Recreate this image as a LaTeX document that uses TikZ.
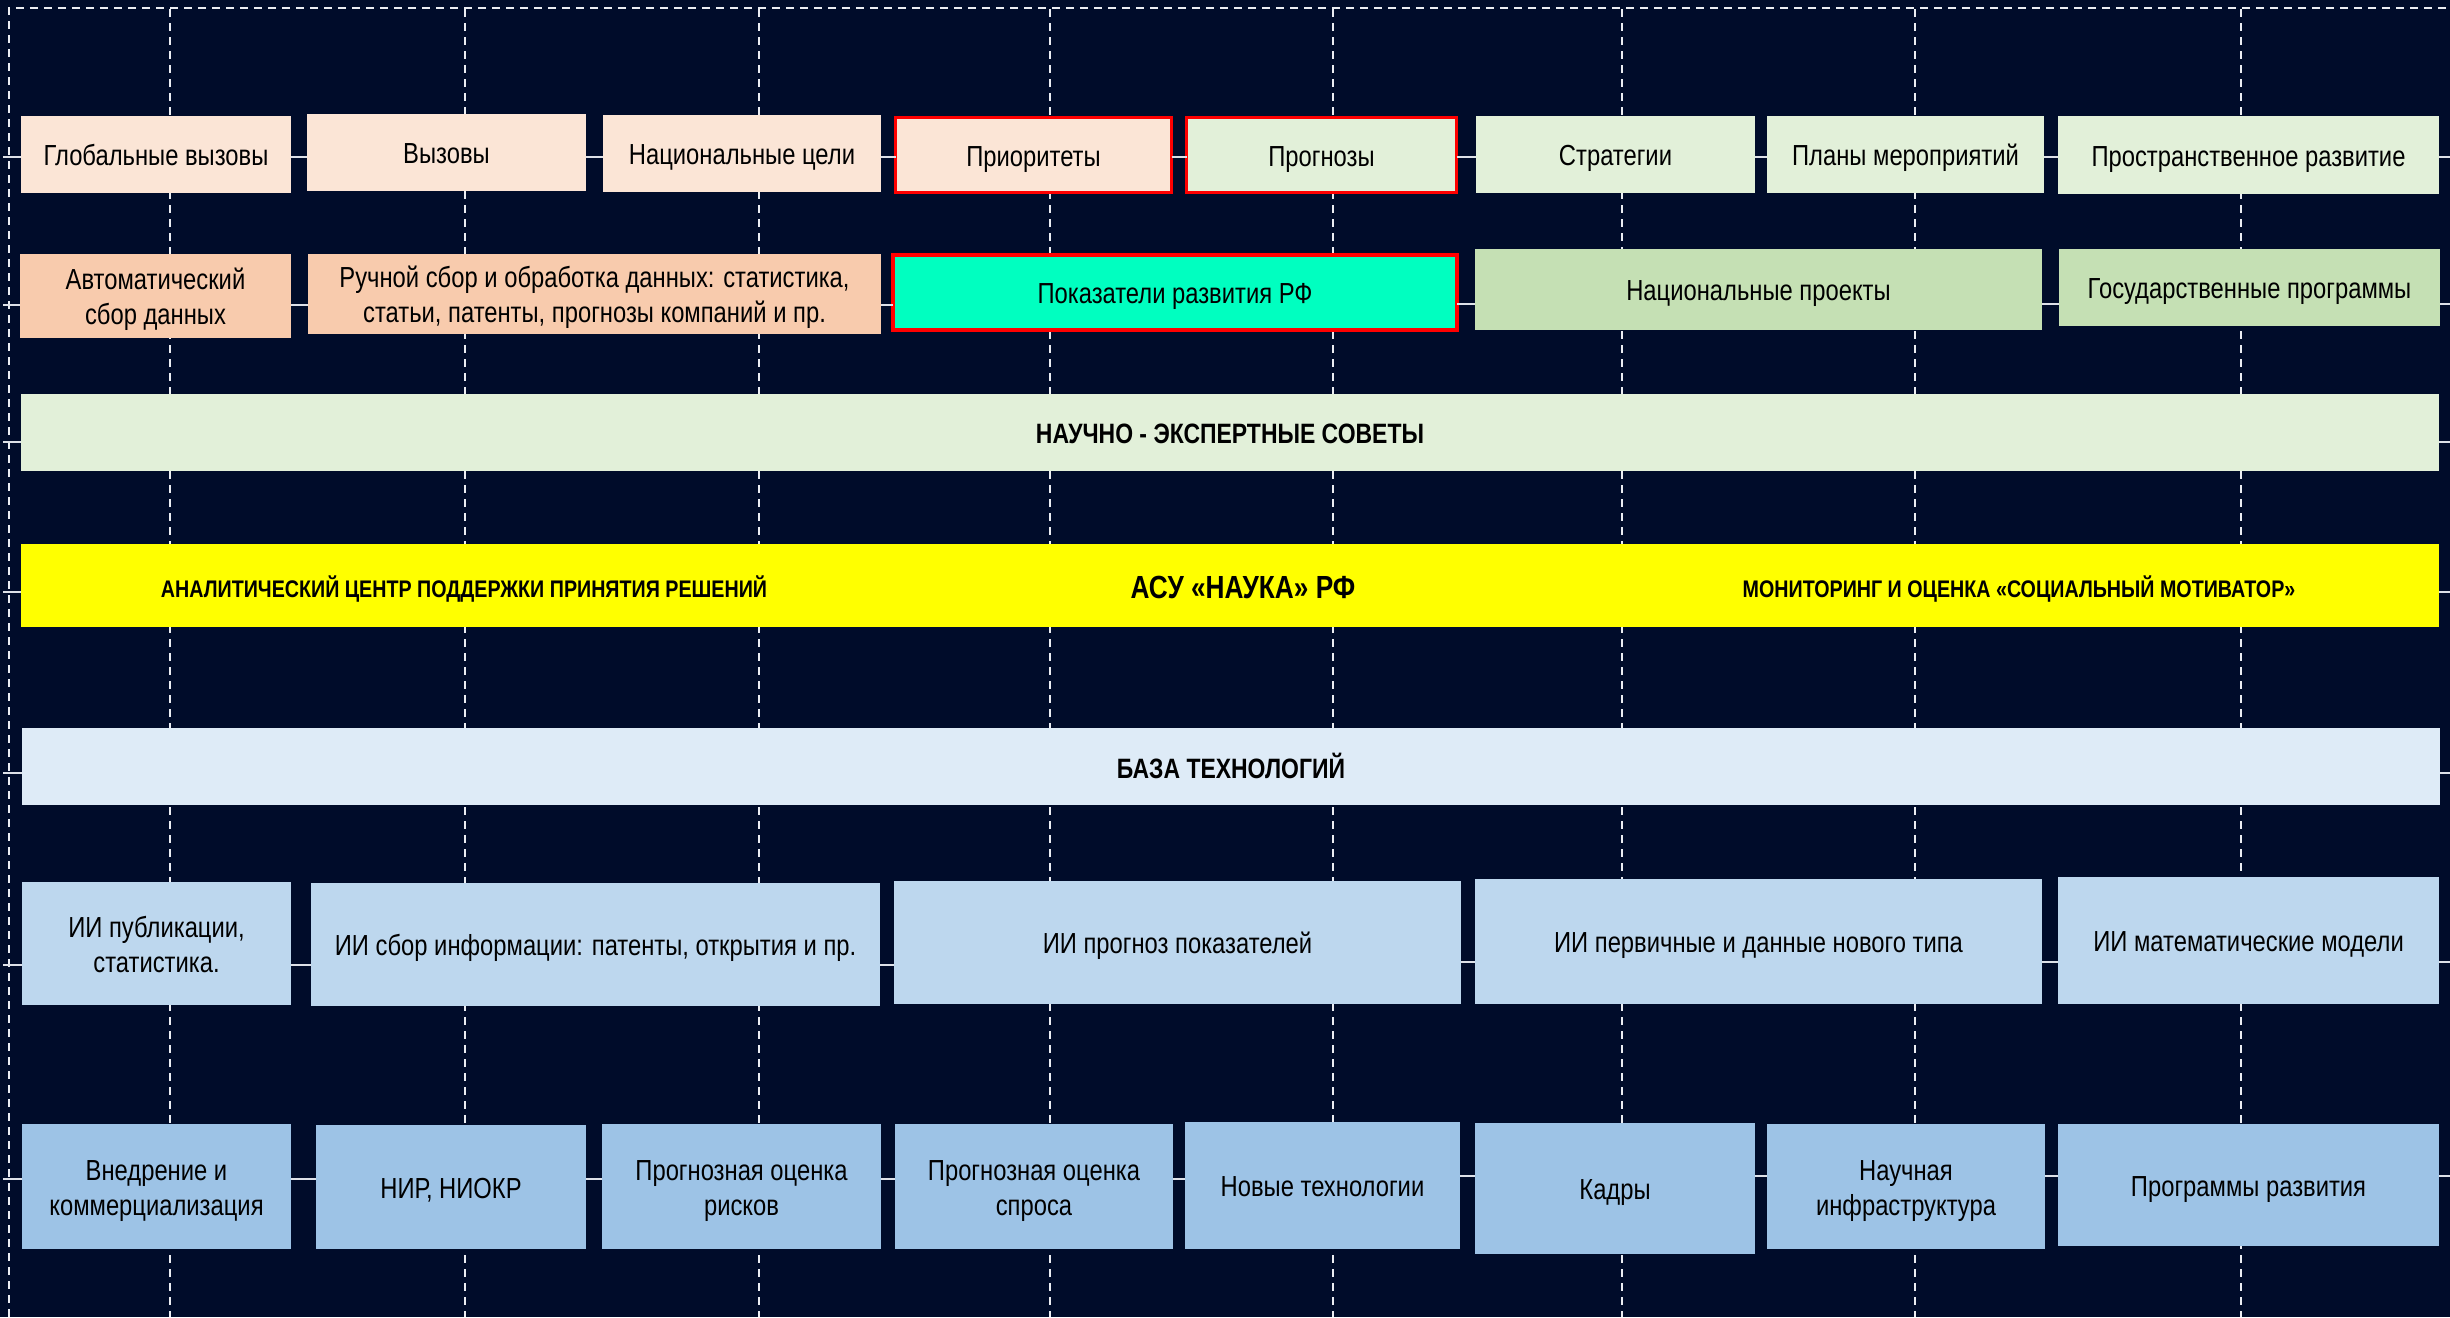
\documentclass[tikz,border=0pt]{standalone}
\usepackage{fontspec}
\setmainfont[FakeStretch=0.82]{Liberation Sans}
\definecolor{bg}{RGB}{0,12,42}
\definecolor{peach}{HTML}{FBE5D6}
\definecolor{orng}{HTML}{F8CBAD}
\definecolor{lgreen}{HTML}{E2F0D9}
\definecolor{mgreen}{HTML}{C5E0B4}
\definecolor{teal}{HTML}{00FFC0}
\definecolor{yel}{HTML}{FFFF00}
\definecolor{lblue}{HTML}{DEEBF7}
\definecolor{mblue}{HTML}{BDD7EE}
\definecolor{dblue}{HTML}{9DC3E6}
\definecolor{connc}{RGB}{222,225,232}
\definecolor{dashc}{RGB}{235,237,242}
\definecolor{redb}{HTML}{FF0000}
\newcommand{\bx}[7][]{\node[box,#1,minimum width={(#5-#3)*0.5pt},minimum height={(#6-#4)*0.5pt}] (#2) at ({(#3+#5)/2},{(#4+#6)/2}) {\raisebox{-2pt}[\height][\depth]{\begin{tabular}{@{}c@{}}#7\end{tabular}}};}
\begin{document}
\begin{tikzpicture}[x=0.5pt,y=-0.5pt,
  box/.style={rectangle,inner sep=0pt,outer sep=0pt,text=black,font=\fontsize{14.5}{17.5}\selectfont},
  redbox/.style={draw=redb,line width=1.5pt},
  redbox2/.style={draw=redb,line width=2pt},
  band/.style={box,font=\bfseries\fontsize{14}{17}\selectfont},
  bandlbl/.style={inner sep=0pt,text=black,font=\bfseries\fontsize{12}{14}\selectfont},
  conn/.style={draw=connc,line width=1.4pt},
  grid/.style={draw=dashc,line width=1pt,dash pattern=on 4.2pt off 2.8pt}]
\fill[bg] (0,0) rectangle (2450,1317);
\useasboundingbox (0,0) rectangle (2450,1317);
% dashed frame and grid
\draw[grid] (9,1317) -- (9,8) -- (2450,8);
\foreach \gx in {170,465,759,1050,1333,1622,1915,2241}
  \draw[grid] (\gx,9) -- (\gx,1317);
% row 1
\bx[fill=peach]{g1}{21}{116}{291}{193}{Глобальные вызовы}
\bx[fill=peach]{g2}{307}{114}{586}{191}{Вызовы}
\bx[fill=peach]{g3}{603}{115}{881}{192}{Национальные цели}
\bx[fill=peach,redbox]{g4}{895.5}{117.5}{1171.5}{192.5}{Приоритеты}
\bx[fill=lgreen,redbox]{g5}{1186.5}{117.5}{1456.5}{192.5}{Прогнозы}
\bx[fill=lgreen]{g6}{1476}{116}{1755}{193}{Стратегии}
\bx[fill=lgreen]{g7}{1767}{116}{2044}{193}{Планы мероприятий}
\bx[fill=lgreen]{g8}{2058}{116}{2439}{194}{Пространственное развитие}
% row 2
\bx[fill=orng]{d1}{20}{254}{291}{338}{Автоматический\\сбор данных}
\bx[fill=orng]{d2}{308}{254}{881}{334}{Ручной сбор и обработка данных: статистика,\\статьи, патенты, прогнозы компаний и пр.}
\bx[fill=teal,redbox2]{d3}{893}{255}{1457}{330}{Показатели развития РФ}
\bx[fill=mgreen]{d4}{1475}{249}{2042}{330}{Национальные проекты}
\bx[fill=mgreen]{d5}{2059}{249}{2440}{326}{Государственные программы}
% bands
\bx[band,fill=lgreen]{b1}{21}{394}{2439}{471}{НАУЧНО - ЭКСПЕРТНЫЕ СОВЕТЫ}
\bx[band,fill=yel]{b2}{21}{544}{2439}{627}{}
\node[bandlbl] (b2a) at (464,589) {АНАЛИТИЧЕСКИЙ ЦЕНТР ПОДДЕРЖКИ ПРИНЯТИЯ РЕШЕНИЙ};
\node[bandlbl,font=\bfseries\fontsize{16}{19}\selectfont] (b2b) at (1243,587) {АСУ «НАУКА» РФ};
\node[bandlbl] (b2c) at (2019,589) {МОНИТОРИНГ И ОЦЕНКА «СОЦИАЛЬНЫЙ МОТИВАТОР»};
\bx[band,fill=lblue]{b3}{22}{728}{2440}{805}{БАЗА ТЕХНОЛОГИЙ}
% AI row
\bx[fill=mblue]{a1}{22}{882}{291}{1005}{ИИ публикации,\\статистика.}
\bx[fill=mblue]{a2}{311}{883}{880}{1006}{ИИ сбор информации: патенты, открытия и пр.}
\bx[fill=mblue]{a3}{894}{881}{1461}{1004}{ИИ прогноз показателей}
\bx[fill=mblue]{a4}{1475}{879}{2042}{1004}{ИИ первичные и данные нового типа}
\bx[fill=mblue]{a5}{2058}{877}{2439}{1004}{ИИ математические модели}
% bottom row
\bx[fill=dblue]{c1}{22}{1124}{291}{1249}{Внедрение и\\коммерциализация}
\bx[fill=dblue]{c2}{316}{1125}{586}{1249}{НИР, НИОКР}
\bx[fill=dblue]{c3}{602}{1124}{881}{1249}{Прогнозная оценка\\рисков}
\bx[fill=dblue]{c4}{895}{1124}{1173}{1249}{Прогнозная оценка\\спроса}
\bx[fill=dblue]{c5}{1185}{1122}{1460}{1249}{Новые технологии}
\bx[fill=dblue]{c6}{1475}{1123}{1755}{1254}{Кадры}
\bx[fill=dblue]{c7}{1767}{1124}{2045}{1249}{Научная\\инфраструктура}
\bx[fill=dblue]{c8}{2058}{1124}{2439}{1246}{Программы развития}
% connectors
\coordinate (r1L) at (3,157);  \coordinate (r1R) at (2450,157);
\draw[conn] (r1L) -- (g1.west |- r1L);
\foreach \a/\b in {g1/g2,g2/g3,g3/g4,g4/g5,g5/g6,g6/g7,g7/g8}
  \draw[conn] (\a.east |- r1L) -- (\b.west |- r1L);
\draw[conn] (g8.east |- r1R) -- (r1R);
\coordinate (r2L) at (3,305);  \coordinate (r2R) at (2450,304);
\draw[conn] (r2L) -- (d1.west |- r2L);
\draw[conn] (d1.east |- r2L) -- (d2.west |- r2L);
\draw[conn] (d2.east |- r2L) -- (d3.west |- r2L);
\draw[conn] (d3.east |- r2R) -- (d4.west |- r2R);
\draw[conn] (d4.east |- r2R) -- (d5.west |- r2R);
\draw[conn] (d5.east |- r2R) -- (r2R);
\coordinate (bL1) at (3,442);  \coordinate (bR1) at (2450,442);
\draw[conn] (bL1) -- (b1.west |- bL1);
\draw[conn] (b1.east |- bR1) -- (bR1);
\coordinate (bL2) at (3,592);  \coordinate (bR2) at (2450,592);
\draw[conn] (bL2) -- (b2.west |- bL2);
\draw[conn] (b2.east |- bR2) -- (bR2);
\coordinate (bL3) at (3,773);  \coordinate (bR3) at (2450,773);
\draw[conn] (bL3) -- (b3.west |- bL3);
\draw[conn] (b3.east |- bR3) -- (bR3);
\coordinate (r3L) at (3,965);  \coordinate (r3R) at (2450,962);
\draw[conn] (r3L) -- (a1.west |- r3L);
\draw[conn] (a1.east |- r3L) -- (a2.west |- r3L);
\draw[conn] (a2.east |- r3L) -- (a3.west |- r3L);
\draw[conn] (a3.east |- r3R) -- (a4.west |- r3R);
\draw[conn] (a4.east |- r3R) -- (a5.west |- r3R);
\draw[conn] (a5.east |- r3R) -- (r3R);
\coordinate (r4L) at (3,1179);  \coordinate (r4R) at (2450,1176);
\draw[conn] (r4L) -- (c1.west |- r4L);
\foreach \a/\b in {c1/c2,c2/c3,c3/c4,c4/c5}
  \draw[conn] (\a.east |- r4L) -- (\b.west |- r4L);
\foreach \a/\b in {c5/c6,c6/c7,c7/c8}
  \draw[conn] (\a.east |- r4R) -- (\b.west |- r4R);
\draw[conn] (c8.east |- r4R) -- (r4R);
\end{tikzpicture}
\end{document}
